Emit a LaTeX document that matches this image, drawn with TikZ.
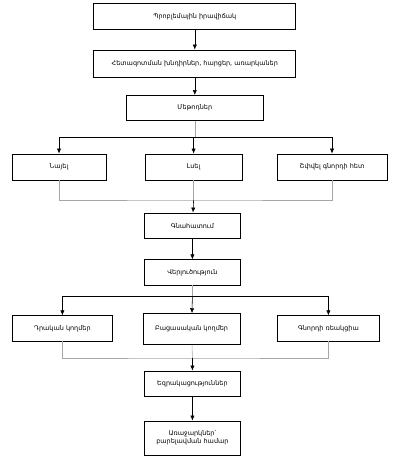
\documentclass[tikz,border=0pt]{standalone}
\usepackage{fontspec}
\setmainfont{DejaVu Sans}
\usetikzlibrary{arrows.meta}
\tikzset{
  stepbox/.style={draw, line width=0.6pt, rectangle, minimum height=0.63cm, align=center,
    font=\fontsize{4.6}{5.6}\selectfont, inner sep=1pt},
  joinline/.style={gray!70, thin},
}
\begin{document}
\begin{tikzpicture}[>={Latex[length=3.5pt,width=3pt]}]
  \useasboundingbox (0,0) rectangle (10,11.7);
  % main column
  \node[stepbox, minimum width=5.05cm] (probl) at (4.87,11.288) {Պրոբլեմային իրավիճակ};
  \node[stepbox, minimum width=5.05cm, minimum height=0.68cm] (khndir) at (4.87,10.11)
    {Հետազոտման խնդիրներ, հարցեր, առարկաներ};
  \node[stepbox, minimum width=3.43cm] (metod) at (4.87,9.0) {Մեթոդներ};
  % methods
  \node[stepbox, minimum width=2.35cm, minimum height=0.65cm] (nayel) at (1.475,7.525) {Նայել};
  \node[stepbox, minimum width=2.43cm, minimum height=0.65cm] (lsel) at (4.84,7.525) {Լսել};
  \node[stepbox, minimum width=2.75cm, minimum height=0.65cm] (shfvel) at (8.3,7.525) {Շփվել գնորդի հետ};
  \node[stepbox, minimum width=2.38cm] (gnah) at (4.81,6.06) {Գնահատում};
  \node[stepbox, minimum width=2.38cm] (verl) at (4.81,4.89) {Վերլուծություն};
  % sides
  \node[stepbox, minimum width=2.48cm] (drakan) at (1.56,3.49) {Դրական կողմեր};
  \node[stepbox, minimum width=2.43cm, minimum height=0.78cm] (bacas) at (4.79,3.47) {Բացասական կողմեր};
  \node[stepbox, minimum width=2.53cm] (reak) at (8.21,3.49) {Գնորդի ռեակցիա};
  \node[stepbox, minimum width=2.38cm] (ezrak) at (4.81,2.11) {Եզրակացություններ};
  \node[stepbox, minimum width=2.38cm, minimum height=0.85cm] (arajark) at (4.81,0.75)
    {Առաջարկներ՝\\ բարելավման համար};
  \coordinate (s1) at (4.87,8.275);
  \coordinate (j1) at (4.84,6.7);
  \coordinate (s2) at (4.81,4.3);
  \coordinate (j2) at (4.81,2.75);
  \draw[->] (probl) -- (khndir);
  \draw[->] (khndir) -- (metod);
  \draw[joinline] (metod) -- (s1);
  \draw[->] (s1) -| (nayel);
  \draw[->] (s1) -| (lsel);
  \draw[->] (s1) -| (shfvel);
  \draw[joinline] (nayel) |- (j1) -| (shfvel);
  \draw[joinline] (lsel) -- (j1);
  \draw[->] (j1) -- (gnah);
  \draw[->] (gnah) -- (verl);
  \draw[joinline] (verl) -- (s2);
  \draw[->] (s2) -| (drakan);
  \draw[->] (s2) -- (bacas);
  \draw[->] (s2) -| (reak);
  \draw[joinline] (drakan) |- (j2) -| (reak);
  \draw[joinline] (bacas) -- (j2);
  \draw[->] (j2) -- (ezrak);
  \draw[->] (ezrak) -- (arajark);
\end{tikzpicture}
\end{document}
